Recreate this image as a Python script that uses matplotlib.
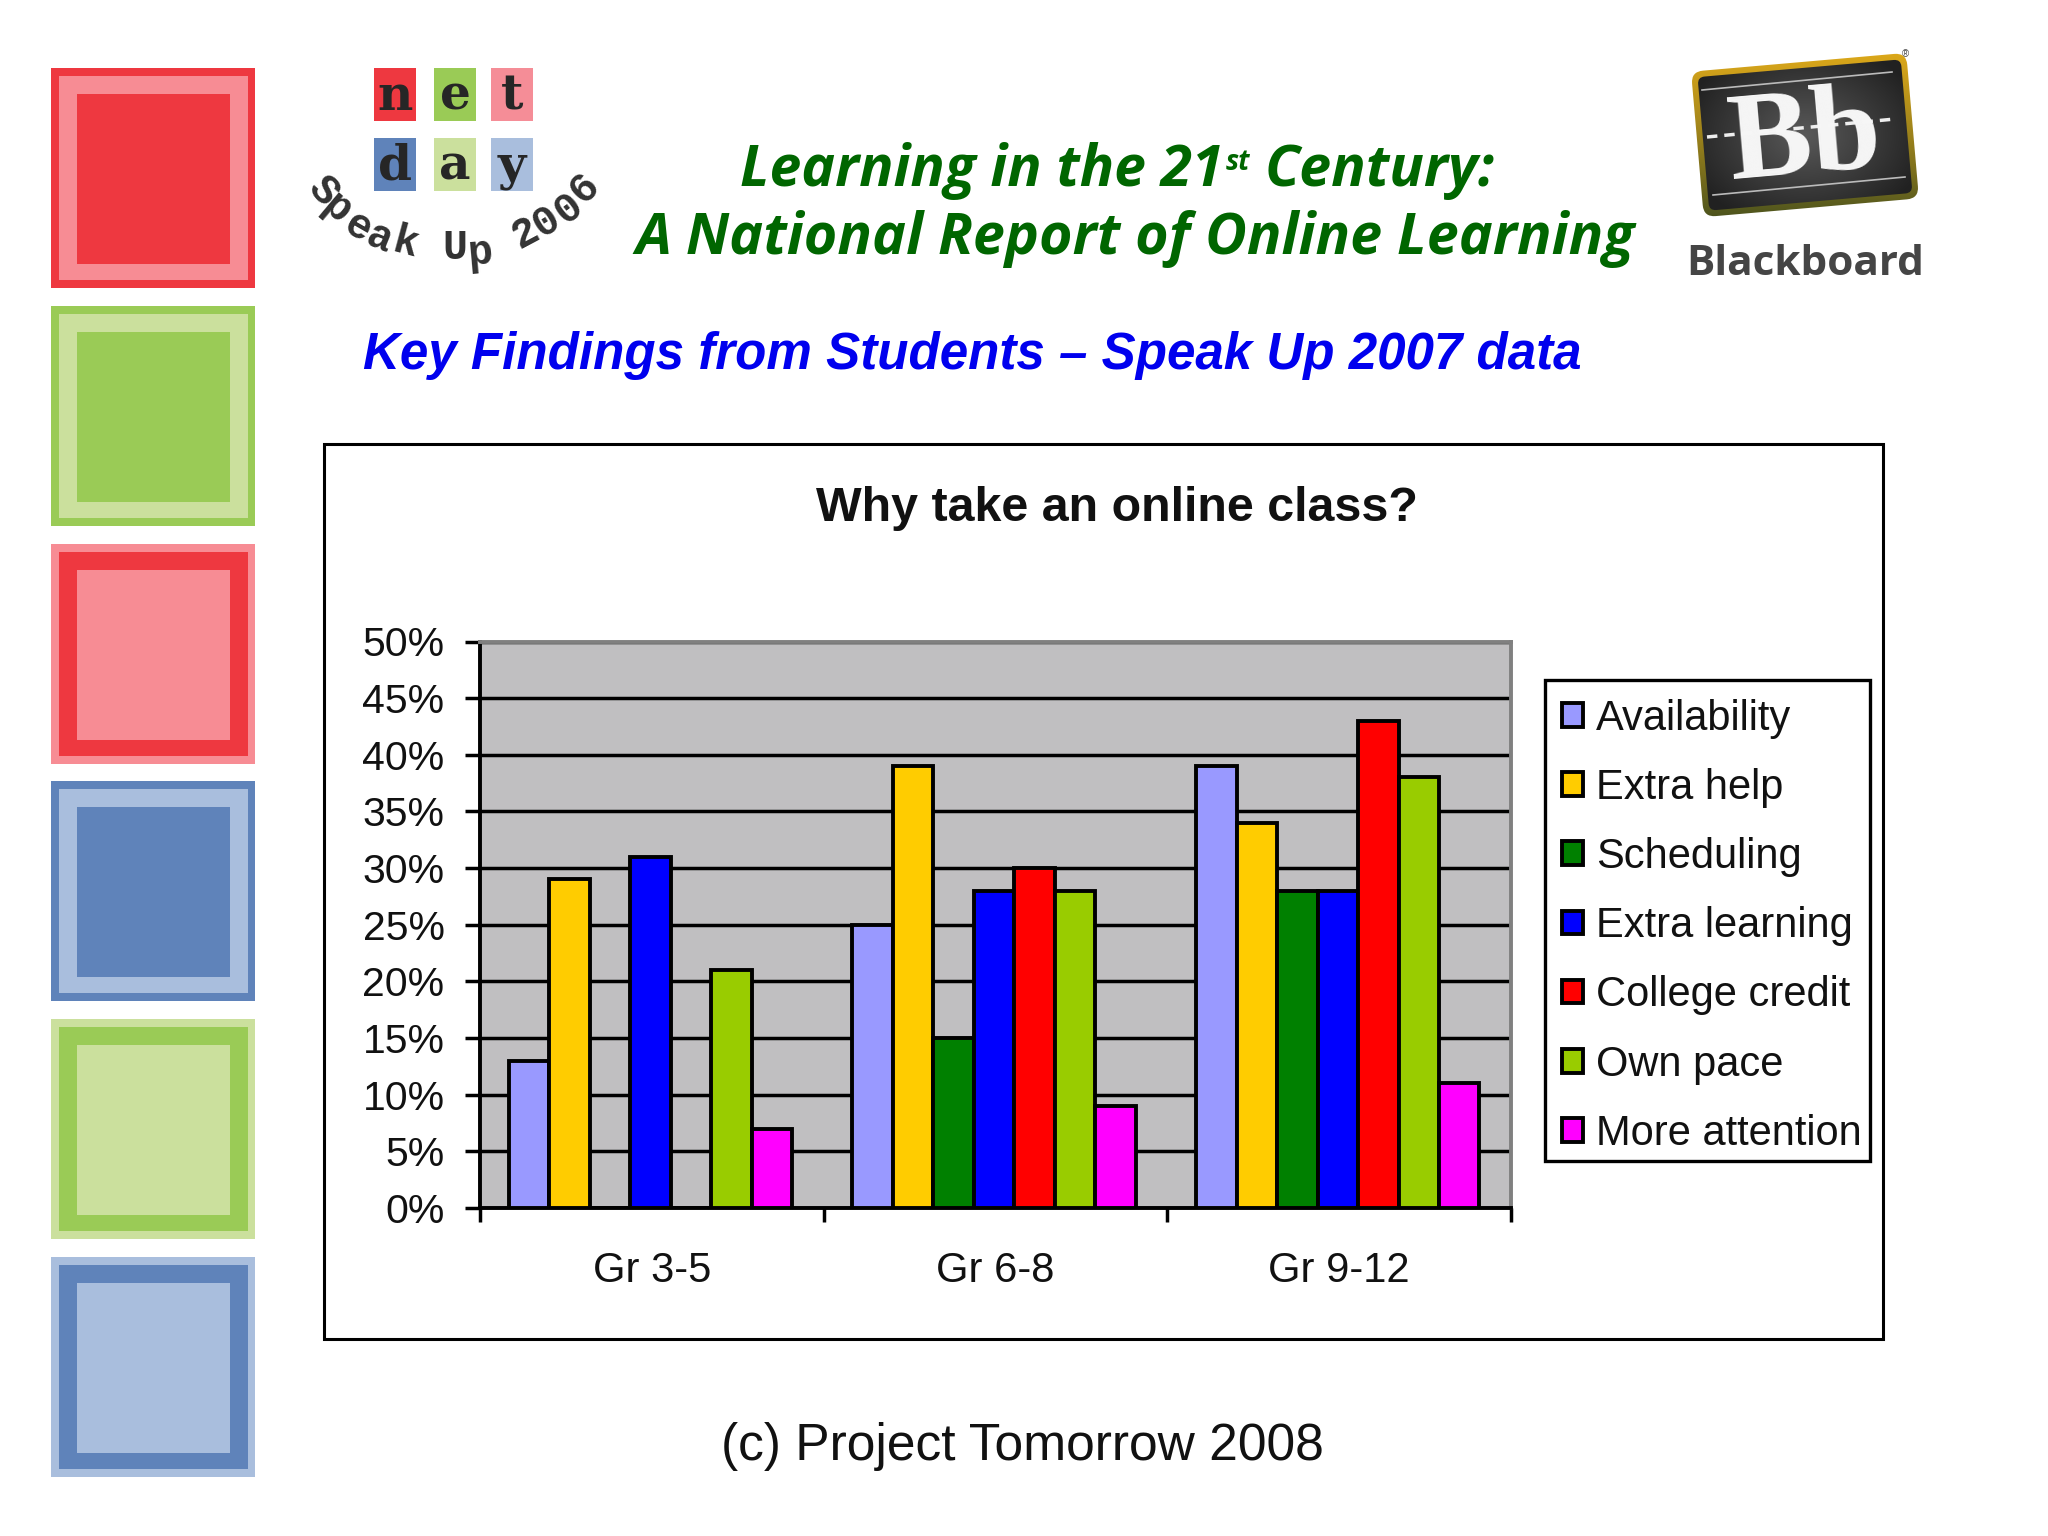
import numpy as np
import matplotlib
matplotlib.use("Agg")
import matplotlib.pyplot as plt
from matplotlib.patches import Rectangle, FancyBboxPatch
from matplotlib.transforms import Affine2D

groups = ["Gr 3-5", "Gr 6-8", "Gr 9-12"]
availability = [13, 25, 39]
extra_help = [29, 39, 34]
scheduling = [0, 15, 28]
extra_learning = [31, 28, 28]
college_credit = [0, 30, 43]
own_pace = [21, 28, 38]
more_attention = [7, 9, 11]
series_names = ["Availability", "Extra help", "Scheduling", "Extra learning",
                "College credit", "Own pace", "More attention"]
series_values = [availability, extra_help, scheduling, extra_learning,
                 college_credit, own_pace, more_attention]
series_colors = ["#9999FF", "#FFCC00", "#008000", "#0000FF", "#FF0000", "#99CC00", "#FF00FF"]
y_ticks = list(range(0, 51, 5))
y_labels = [f"{v}%" for v in y_ticks]

W, H = 2048, 1536
fig = plt.figure(figsize=(W / 100, H / 100), dpi=100, facecolor="white")
SANS = "Liberation Sans"

# Page layer in pixel coordinates
pg = fig.add_axes([0, 0, 1, 1], zorder=0)
pg.set_xlim(0, W)
pg.set_ylim(H, 0)
pg.axis("off")

RED, PINK = "#EE3840", "#F78C94"
GREEN, LGREEN = "#9ACB56", "#CBE09D"
BLUE, LBLUE = "#5F83BA", "#A9BEDD"
tiles = [(68, RED, PINK, RED), (306, GREEN, LGREEN, GREEN), (544, PINK, RED, PINK),
         (781, BLUE, LBLUE, BLUE), (1019, LGREEN, GREEN, LGREEN), (1257, LBLUE, BLUE, LBLUE)]
for top, c1, c2, c3 in tiles:
    pg.add_patch(Rectangle((51, top), 204, 220, fc=c1, ec="none"))
    pg.add_patch(Rectangle((59, top + 8), 189, 204, fc=c2, ec="none"))
    pg.add_patch(Rectangle((77, top + 26), 153, 170, fc=c3, ec="none"))

# net day logo
letters = [("n", 374, 68, RED), ("e", 434, 68, GREEN), ("t", 491, 68, "#F58D97"),
           ("d", 374, 138, BLUE), ("a", 434, 138, LGREEN), ("y", 491, 138, LBLUE)]
for ch, x, y, col in letters:
    pg.add_patch(Rectangle((x, y), 42, 53, fc=col, ec="none"))
    pg.text(x + 21, y + 42, ch, family="DejaVu Serif", weight="bold", fontsize=35,
            color="#262626", ha="center", va="baseline")
arc = [("S", 128, 453, -48), ("p", 170, 505, -40), ("e", 235, 562, -30), ("a", 300, 595, -22),
       ("k", 375, 610, -15), ("U", 525, 625, 0), ("p", 600, 640, 5), ("2", 735, 580, 28),
       ("0", 800, 545, 32), ("0", 865, 505, 38), ("6", 915, 445, 45)]
for ch, zx, zy, rot in arc:
    pg.text(280 + zx / 3, 40 + zy / 3, ch, family="Liberation Mono", weight="bold", fontsize=30,
            color="#333333", ha="center", va="center", rotation=rot)

# Headline
HEAD = "#006600"
hkw = dict(family="Open Sans", weight="bold", style="italic", color=HEAD, va="baseline")
pg.text(740, 186, "Learning in the 21", fontsize=41, ha="left", **hkw)
pg.text(1226, 170, "st", fontsize=20, ha="left", **hkw)
pg.text(1265, 186, "Century:", fontsize=41.3, ha="left", **hkw)
pg.text(635, 254, "A National Report of Online Learning", fontsize=41.3, ha="left", **hkw)
pg.text(363, 369, "Key Findings from Students \u2013 Speak Up 2007 data", family=SANS, weight="bold",
        style="italic", color="#0000EE", fontsize=36.8, ha="left", va="baseline")
pg.text(1022, 1460, "(c) Project Tomorrow 2008", family=SANS, color="#111111", fontsize=37.1,
        ha="center", va="baseline")

# Blackboard logo
ang = -5
rot = Affine2D().rotate_deg_around(1805, 135, ang) + pg.transData
outer = FancyBboxPatch((1697, 62), 216, 146, boxstyle="round,pad=0,rounding_size=12",
                       fc="none", ec="none", transform=rot)
pg.add_patch(outer)
grad = np.linspace(0, 1, 256)[:, None, None]
top_c, bot_c = np.array([[[0.90, 0.68, 0.10]]]), np.array([[[0.22, 0.28, 0.12]]])
im = pg.imshow(top_c * (1 - grad) ** 0.8 + bot_c * (1 - (1 - grad) ** 0.8),
               extent=(1680, 1930, 230, 40), aspect="auto", zorder=1)
im.set_clip_path(outer)
inner = FancyBboxPatch((1703, 68), 204, 134, boxstyle="round,pad=0,rounding_size=7",
                       fc="none", ec="none", transform=rot)
pg.add_patch(inner)
yy, xx = np.mgrid[-1:1:200j, -1:1:200j]
glow = np.clip(1 - np.sqrt(xx ** 2 + yy ** 2), 0, 1)
board = 0.13 + 0.22 * glow
im2 = pg.imshow(np.dstack([board] * 3), extent=(1680, 1930, 230, 40), aspect="auto", zorder=2)
im2.set_clip_path(inner)
pg.set_xlim(0, W)
pg.set_ylim(H, 0)
pg.plot([1702, 1892], [90, 72], color="#bbbbbb", lw=1.2, zorder=3)
pg.plot([1713, 1905], [195, 177], color="#bbbbbb", lw=1.2, zorder=3)
pg.plot([1707, 1895], [137, 119], color="#eeeeee", lw=2.5, ls=(0, (3, 2)), zorder=3)
pg.text(1805, 142, "Bb", family="Liberation Serif", weight="bold", fontsize=90, color="#f7f7f7",
        rotation=5, ha="center", va="center", rotation_mode="anchor", zorder=4)
pg.text(1905, 54, "\u00ae", family=SANS, fontsize=7, color="#444444", ha="center", va="center")
pg.text(1805, 275, "Blackboard", family="Open Sans", weight="bold", fontsize=30.4, color="#454545",
        ha="center", va="baseline")

# Chart frame
pg.add_patch(Rectangle((324, 444), 1559, 895, fc="white", ec="black", lw=2.2))
pg.text(1117, 521, "Why take an online class?", family=SANS, weight="bold", fontsize=34.8,
        color="#111111", ha="center", va="baseline")
# Legend frame
pg.add_patch(Rectangle((1545, 680), 325, 481, fc="white", ec="black", lw=2.4))

# Chart
L, R, T, B = 480, 1511, 641.5, 1208
ax = fig.add_axes([L / W, 1 - B / H, (R - L) / W, (B - T) / H], zorder=1)
ax.set_facecolor("#C0BFC1")
n = len(series_names)
bar_w = 0.1178
x = np.arange(len(groups))
ax.yaxis.grid(True, color="black", lw=2.5)
ax.set_axisbelow(True)
for j, (name, vals, col) in enumerate(zip(series_names, series_values, series_colors)):
    ax.bar(x - 0.004 + (j - (n - 1) / 2) * bar_w, vals, bar_w, color=col, edgecolor="black",
           linewidth=2.8, label=name, zorder=3)
ax.set_xlim(-0.5, 2.5)
ax.set_ylim(0, 50)
ax.set_yticks(y_ticks)
ax.set_yticklabels(y_labels, family=SANS, fontsize=29.5, color="#111111")
ax.tick_params(axis="y", length=11, width=2.5, pad=14.5)
ax.set_xticks(np.arange(-0.5, 3, 1))
ax.set_xticklabels([])
ax.tick_params(axis="x", which="major", length=10, width=2.5)
ax.set_xticks(x, minor=True)
ax.set_xticklabels(groups, minor=True, family=SANS, fontsize=30, color="#111111")
ax.tick_params(axis="x", which="minor", length=0, pad=31)
for s in ("left", "bottom"):
    ax.spines[s].set_color("black")
    ax.spines[s].set_linewidth(2.8)
for s in ("top", "right"):
    ax.spines[s].set_color("#808080")
    ax.spines[s].set_linewidth(2.8)

leg = ax.legend(loc="upper left", bbox_to_anchor=(1543 / W, 1 - 680 / H),
                bbox_transform=fig.transFigure, borderaxespad=0,
                prop={"family": SANS, "size": 30}, frameon=False,
                handlelength=0.5, handleheight=0.5,
                handletextpad=0.33, labelspacing=0.70, borderpad=0.45)
for h in leg.legend_handles:
    h.set_linewidth(2.8)
for t in leg.get_texts():
    t.set_color("#111111")

fig.savefig("out.png", dpi=100)
